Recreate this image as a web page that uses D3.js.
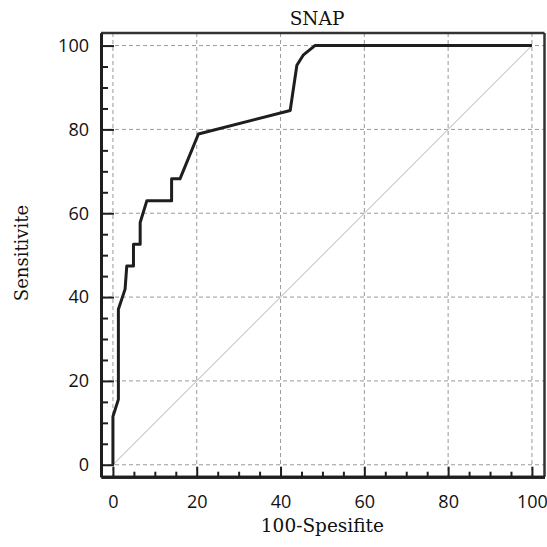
<!DOCTYPE html>
<html>
<head>
<meta charset="utf-8">
<script src="https://cdn.jsdelivr.net/npm/d3@7"></script>
<style>
  body { margin: 0; background: #fff; }
  svg { display: block; }
</style>
</head>
<body>
<svg id="chart"></svg>
<script>
// ROC curve points (100-Spesifite, Sensitivite)
const fpr = [0, 0, 1.3, 1.3, 2.9, 3.3, 4.9, 4.9, 6.5, 6.5, 8.1, 14.0, 14.0, 16.0, 20.4, 42.3, 43.9, 45.4, 48.2, 100];
const tpr = [0, 11.5, 15.6, 37.1, 41.9, 47.4, 47.4, 52.6, 52.6, 57.8, 63.0, 63.0, 68.2, 68.2, 78.9, 84.5, 95.3, 97.7, 100, 100];
const majorTicks = [0, 20, 40, 60, 80, 100];
const minorTicks = [5, 10, 15, 25, 30, 35, 45, 50, 55, 65, 70, 75, 85, 90, 95];
const title = "SNAP";
const xTitle = "100-Spesifite";
const yTitle = "Sensitivite";

const width = 547, height = 547;
const margin = { top: 33, right: 2.5, bottom: 70.3, left: 101 };
const innerW = width - margin.left - margin.right;
const innerH = height - margin.top - margin.bottom;

const svg = d3.select("#chart")
    .attr("width", width)
    .attr("height", height);

const chart = svg.append("g")
    .attr("transform", `translate(${margin.left},${margin.top})`);

const x = d3.scaleLinear().domain([-2.85, 103]).range([0, innerW]);
const y = d3.scaleLinear().domain([-2.85, 103]).range([innerH, 0]);

// dashed grid
chart.append("g")
  .selectAll("line.vgrid")
  .data(majorTicks)
  .join("line")
    .attr("x1", d => x(d)).attr("x2", d => x(d))
    .attr("y1", 0).attr("y2", innerH)
    .attr("stroke", "#9a9a9a")
    .attr("stroke-width", 1)
    .attr("stroke-dasharray", "4,3");

chart.append("g")
  .selectAll("line.hgrid")
  .data(majorTicks)
  .join("line")
    .attr("x1", 0).attr("x2", innerW)
    .attr("y1", d => y(d)).attr("y2", d => y(d))
    .attr("stroke", "#9a9a9a")
    .attr("stroke-width", 1)
    .attr("stroke-dasharray", "4,3");

// reference diagonal
chart.append("line")
    .attr("x1", x(0)).attr("y1", y(0))
    .attr("x2", x(100)).attr("y2", y(100))
    .attr("stroke", "#b0b0b0")
    .attr("stroke-width", 1);

// ROC curve
const pts = fpr.map((d, i) => [d, tpr[i]]);
chart.append("path")
    .datum(pts)
    .attr("fill", "none")
    .attr("stroke", "#1e1e1e")
    .attr("stroke-width", 3)
    .attr("stroke-linejoin", "round")
    .attr("d", d3.line().x(d => x(d[0])).y(d => y(d[1])));

// frame: thin top/right, thick left/bottom
chart.append("line").attr("x1", 0).attr("x2", innerW).attr("y1", 0).attr("y2", 0)
    .attr("stroke", "#333").attr("stroke-width", 2.5);
chart.append("line").attr("x1", innerW).attr("x2", innerW).attr("y1", 0).attr("y2", innerH)
    .attr("stroke", "#333").attr("stroke-width", 2.5);

// axes, ticks pointing inward
const xMajor = chart.append("g")
    .attr("transform", `translate(0,${innerH})`)
    .call(d3.axisBottom(x).tickValues(majorTicks).tickSizeInner(-10).tickSizeOuter(0).tickPadding(0));
const xMinor = chart.append("g")
    .attr("transform", `translate(0,${innerH})`)
    .call(d3.axisBottom(x).tickValues(minorTicks).tickSizeInner(-5).tickSizeOuter(0).tickFormat(""));
const yMajor = chart.append("g")
    .call(d3.axisLeft(y).tickValues(majorTicks).tickSizeInner(-13).tickSizeOuter(0).tickPadding(12));
const yMinor = chart.append("g")
    .call(d3.axisLeft(y).tickValues(minorTicks).tickSizeInner(-7).tickSizeOuter(0).tickFormat(""));

[xMajor, xMinor, yMajor, yMinor].forEach(g => {
  g.select(".domain").attr("stroke", "#1e1e1e").attr("stroke-width", 3);
  g.selectAll(".tick line").attr("stroke", "#1e1e1e").attr("stroke-width", 2);
});

xMajor.selectAll(".tick text")
    .attr("y", 31)
    .attr("dy", null)
    .attr("fill", "#111")
    .style("font-family", "'Open Sans', 'Noto Sans', sans-serif")
    .style("font-size", "18px");

yMajor.selectAll(".tick text")
    .attr("fill", "#111")
    .style("font-family", "'Open Sans', 'Noto Sans', sans-serif")
    .style("font-size", "18px");

// titles
svg.append("text")
    .attr("x", 317)
    .attr("y", 25)
    .attr("text-anchor", "middle")
    .style("font-family", "'DejaVu Serif', serif")
    .style("font-size", "18.5px")
    .attr("fill", "#111")
    .text(title);

svg.append("text")
    .attr("x", margin.left + x(50))
    .attr("y", 532)
    .attr("text-anchor", "middle")
    .style("font-family", "'DejaVu Serif', serif")
    .style("font-size", "18.5px")
    .attr("fill", "#111")
    .text(xTitle);

svg.append("text")
    .attr("transform", `translate(28,253) rotate(-90)`)
    .attr("text-anchor", "middle")
    .style("font-family", "'DejaVu Serif', serif")
    .style("font-size", "18px")
    .attr("fill", "#111")
    .text(yTitle);
</script>
</body>
</html>
